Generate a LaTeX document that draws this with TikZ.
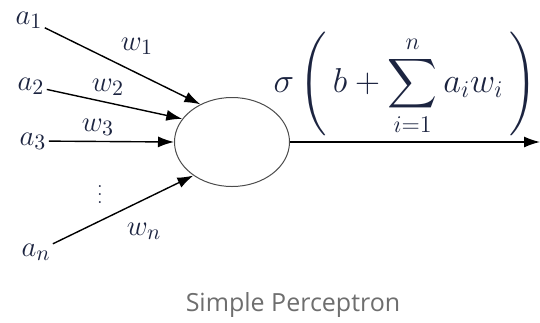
\documentclass[tikz,border=0pt]{standalone}
\usepackage{amsmath}
\usepackage{fontspec}
\newfontfamily\captionfont{Open Sans}
\usetikzlibrary{shapes.geometric, arrows.meta}
\definecolor{mathnavy}{RGB}{28,36,64}
\definecolor{captiongray}{RGB}{110,110,110}

\begin{document}
\begin{tikzpicture}[
    x=0.5pt, y=-0.5pt,
    input/.style={font=\fontsize{15}{18}\selectfont, text=mathnavy, inner sep=1pt},
    weight/.style={font=\fontsize{15}{18}\selectfont, text=mathnavy, inner sep=0pt},
    neuron/.style={ellipse, draw=black!70, line width=0.5pt, minimum width=57.5pt, minimum height=44.5pt, inner sep=0pt},
    synapse/.style={line width=0.7pt, -{Latex[length=8pt, width=5.5pt]}},
    caption/.style={font=\captionfont\fontsize{12.5}{14}\selectfont, text=captiongray}
]
\useasboundingbox (0,0) rectangle (540,322);

%=== the unit ===
\node[neuron] (N) at (232,142) {};

%=== inputs a_1 ... a_n ===
\node[input] (a1) at (29,20)  {$a_1$};
\node[input] (a2) at (31,86)  {$a_2$};
\node[input] (a3) at (33,141) {$a_3$};
\node[input] (an) at (36,252) {$a_n$};
\node[input, font=\fontsize{9}{10}\selectfont, inner sep=0pt] (dots) at (100,189) {$\vdots$};

\draw[synapse] (a1) -- (N.130);
\draw[synapse] (a2) -- (N.155);
\draw[synapse] (a3) -- (N.180);
\draw[synapse] (an) -- (N.221);

% weights on the incoming edges
\node[weight] (w1) at (137,46)  {$w_1$};
\node[weight] (w2) at (108,87)  {$w_2$};
\node[weight] (w3) at (98,127)  {$w_3$};
\node[weight] (wn) at (144,231) {$w_n$};

%=== output ===
\coordinate (out) at (540,142);
\draw[synapse] (N.east) -- (out);
\node[input, font=\fontsize{16.5}{19}\selectfont] (f) at (405,84)
    {$\displaystyle \sigma\left(\,b+\sum_{i=1}^{n} a_i w_i\,\right)$};

\node[caption] (cap) at (293,305) {Simple Perceptron};
\end{tikzpicture}
\end{document}
